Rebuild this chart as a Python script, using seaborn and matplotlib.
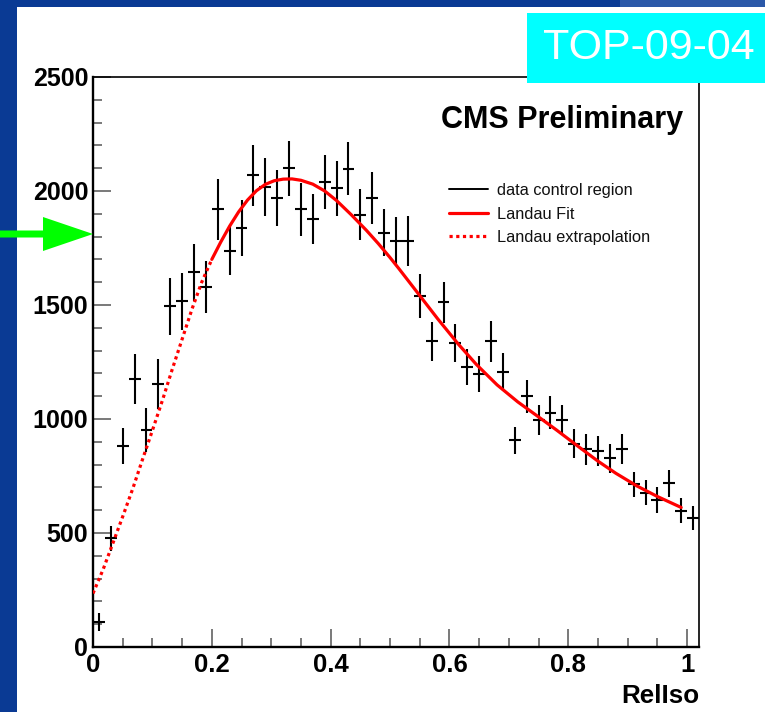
import numpy as np
import pandas as pd
import matplotlib
matplotlib.use("Agg")
import matplotlib.pyplot as plt
from matplotlib.patches import Rectangle, Polygon
from matplotlib.lines import Line2D
import seaborn as sns

# ---------------- data ----------------
bin_centers = [0.01, 0.03, 0.05, 0.07, 0.09, 0.11, 0.13, 0.15, 0.17, 0.19,
               0.21, 0.23, 0.25, 0.27, 0.29, 0.31, 0.33, 0.35, 0.37, 0.39,
               0.41, 0.43, 0.45, 0.47, 0.49, 0.51, 0.53, 0.55, 0.57, 0.59,
               0.61, 0.63, 0.65, 0.67, 0.69, 0.71, 0.73, 0.75, 0.77, 0.79,
               0.81, 0.83, 0.85, 0.87, 0.89, 0.91, 0.93, 0.95, 0.97, 0.99, 1.01]
counts = [110, 476, 882, 1176, 952, 1154, 1494, 1516, 1643, 1579,
          1919, 1739, 1838, 2068, 2017, 1970, 2099, 1919, 1878, 2039,
          2011, 2098, 1895, 1970, 1816, 1780, 1780, 1538, 1340, 1511,
          1333, 1228, 1198, 1340, 1206, 906, 1099, 995, 1027, 995,
          892, 868, 858, 828, 867, 713, 677, 645, 718, 598, 564]
count_err = [38, 56, 78, 110, 95, 108, 126, 124, 126, 116,
             132, 108, 123, 134, 128, 123, 119, 117, 111, 117,
             119, 117, 112, 114, 103, 104, 111, 96, 86, 92,
             84, 77, 78, 89, 83, 60, 72, 67, 73, 67,
             64, 68, 66, 64, 66, 56, 56, 56, 60, 56, 53]
bin_half_width = 0.01

# Landau curve
extrap_x = [0.0, 0.017, 0.033, 0.05, 0.067, 0.083, 0.10, 0.117, 0.133, 0.15,
            0.167, 0.183, 0.20]
extrap_y = [235, 340, 452, 572, 695, 820, 950, 1083, 1215, 1350,
            1485, 1600, 1700]
fit_x = [0.20, 0.215, 0.23, 0.245, 0.26, 0.275, 0.29, 0.305, 0.32, 0.335,
         0.35, 0.37, 0.39, 0.41, 0.435, 0.46, 0.48, 0.50, 0.515, 0.545,
         0.58, 0.615, 0.645, 0.68, 0.715, 0.75, 0.78, 0.815, 0.85, 0.88,
         0.915, 0.95, 0.99]
fit_y = [1700, 1776, 1846, 1908, 1960, 2001, 2029, 2045, 2052, 2053,
         2047, 2030, 2000, 1958, 1895, 1828, 1770, 1708, 1659, 1558,
         1440, 1328, 1240, 1150, 1075, 1009, 952, 883, 815, 762,
         707, 660, 612]

x_ticks = [0, 0.2, 0.4, 0.6, 0.8, 1.0]
x_tick_labels = ["0", "0.2", "0.4", "0.6", "0.8", "1"]
y_ticks = [0, 500, 1000, 1500, 2000, 2500]
y_tick_labels = ["0", "500", "1000", "1500", "2000", "2500"]

legend_labels = ["data control region", "Landau Fit", "Landau extrapolation"]
x_title = "RelIso"
cms_text = "CMS Preliminary"
tag_text = "TOP-09-04"

# ---------------- style ----------------
sns.set_theme(style="white")
plt.rcParams["font.family"] = ["Liberation Sans", "DejaVu Sans"]

W, H = 765, 712
fig = plt.figure(figsize=(W / 100, H / 100), dpi=100)
fig.patch.set_facecolor("white")

def fx(px):
    return px / W

def fy(py):
    return 1 - py / H

blue = "#0a3a94"
# slide background strips
fig.patches.append(Rectangle((0, 0), fx(17), 1, transform=fig.transFigure,
                             facecolor=blue, edgecolor="none", zorder=0))
fig.patches.append(Rectangle((0, fy(7)), 1, 7 / H, transform=fig.transFigure,
                             facecolor=blue, edgecolor="none", zorder=0))
fig.patches.append(Rectangle((fx(620), fy(7)), fx(145), 7 / H, transform=fig.transFigure,
                             facecolor="#2a58a8", edgecolor="none", zorder=0))

ax = fig.add_axes([fx(93), fy(647), fx(699) - fx(93), fy(77) - fy(647)])
ax.set_facecolor("white")

# data points
ax.errorbar(bin_centers, counts, yerr=count_err, xerr=bin_half_width,
            fmt="none", ecolor="black", elinewidth=1.5, capsize=0, zorder=3)

# Landau curves
df_fit = pd.DataFrame({"x": fit_x, "y": fit_y})
df_ext = pd.DataFrame({"x": extrap_x, "y": extrap_y})
sns.lineplot(data=df_fit, x="x", y="y", ax=ax, color="#ff0000", linewidth=2.3,
             sort=True, estimator=None, zorder=4)
sns.lineplot(data=df_ext, x="x", y="y", ax=ax, color="#ff0000", linewidth=2.3,
             linestyle=(0, (1, 1.1)), sort=True, estimator=None, zorder=4)

ax.set_xlim(0, 1.02)
ax.set_ylim(0, 2500)
ax.set_xticks(x_ticks)
ax.set_xticklabels(x_tick_labels, fontsize=18.5, fontweight="bold", color="black")
ax.set_yticks(y_ticks)
ax.set_yticklabels(y_tick_labels, fontsize=18, fontweight="bold", color="black")
ax.set_xticks(np.arange(0, 1.02, 0.05), minor=True)
ax.set_yticks(np.arange(0, 2501, 100), minor=True)
ax.tick_params(axis="both", which="major", direction="in", length=13, width=1.1,
               color="#555555", pad=4, bottom=True, left=True, top=False, right=False)
ax.tick_params(axis="both", which="minor", direction="in", length=6.5, width=1.1,
               color="#555555", bottom=True, left=True, top=False, right=False)
ax.tick_params(axis="y", which="major", pad=3.5)
ax.set_xlabel("")
ax.set_ylabel("")
for side in ["left", "bottom"]:
    ax.spines[side].set_linewidth(1.7)
    ax.spines[side].set_color("black")
for side in ["top", "right"]:
    ax.spines[side].set_linewidth(1.2)
    ax.spines[side].set_color("black")

fig.text(fx(699), fy(703), x_title, ha="right", va="baseline",
         fontsize=18.7, fontweight="bold", color="black")

fig.text(fx(683), fy(128), cms_text, ha="right", va="baseline",
         fontsize=22, fontweight="bold", color="black")

# legend
handles = [Line2D([], [], color="black", lw=1.4),
           Line2D([], [], color="#ff0000", lw=2.3),
           Line2D([], [], color="#ff0000", lw=2.3, linestyle=(0, (1, 1.1)))]
leg = ax.legend(handles, legend_labels, loc="upper left",
                bbox_to_anchor=(fx(449), fy(183)), bbox_transform=fig.transFigure,
                frameon=False, fontsize=11.8, handlelength=2.4, handletextpad=0.5,
                borderpad=0, borderaxespad=0, labelspacing=0.52)
for t in leg.get_texts():
    t.set_color("#111111")

# cyan tag box (overlapping the frame)
fig.patches.append(Rectangle((fx(527), fy(83)), fx(765 - 527), 70 / H,
                             transform=fig.transFigure, facecolor="#00ffff",
                             edgecolor="none", zorder=10))
fig.text(fx(649), fy(48), tag_text, ha="center", va="center", fontsize=31,
         color="white", zorder=11)

# green arrow pointing at the y-axis
arrow_pts = [(0, 230.5), (43, 230.5), (43, 217), (93, 234), (43, 251),
             (43, 237.5), (0, 237.5)]
fig.patches.append(Polygon([(fx(a), fy(b)) for a, b in arrow_pts], closed=True,
                           transform=fig.transFigure, facecolor="#00ff00",
                           edgecolor="none", zorder=12))

fig.savefig("out.png", dpi=100, facecolor=fig.get_facecolor())
